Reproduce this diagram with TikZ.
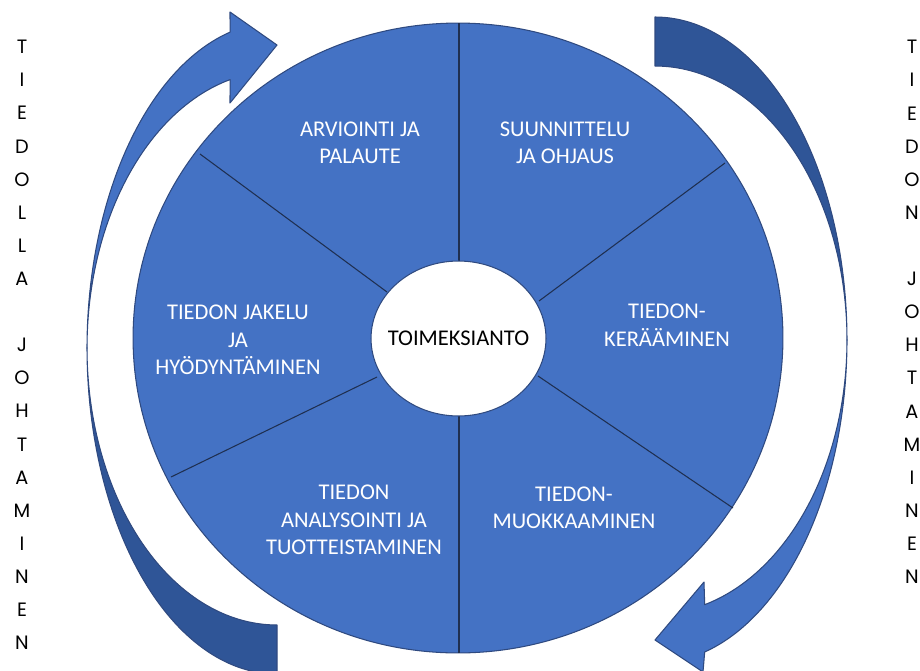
\documentclass[tikz,border=0pt]{standalone}
\usepackage{fontspec}
\setmainfont{Carlito}
\newfontfamily\sidefont{Poppins}
\definecolor{wheelblue}{HTML}{4472C4}
\definecolor{bandshade}{HTML}{2F5597}
\definecolor{rimline}{HTML}{2F4A80}
\definecolor{spokeline}{HTML}{1F2F50}
\begin{document}
\begin{tikzpicture}[x=0.02cm,y=-0.02cm,
  rim/.style={draw=rimline, line width=0.6pt, line join=round},
  frontband/.style={rim, fill=wheelblue},
  backband/.style={rim, fill=bandshade},
  spoke/.style={draw=spokeline, line width=0.6pt},
  hubtext/.style={inner sep=0pt, font=\fontsize{12.8}{15.6}\selectfont, text=black},
  phase/.style={text=white, align=center, font=\fontsize{12.8}{15.6}\selectfont, inner sep=0pt},
  sideword/.style={align=center, font=\sidefont\fontsize{11}{18.85}\selectfont, inner sep=0pt}]
\useasboundingbox (0,0) rectangle (920,670);
\clip (0,0) rectangle (920,670);

% right-hand circular arrow: dark rear face on top, light front face with head below
\path[backband] plot[domain=-90:0,samples=70] ({655+192*cos(\x)},{340+323*sin(\x)})
  -- plot[domain=0:-90,samples=70] ({655+192*cos(\x)},{340+274*sin(\x)}) -- cycle;
\path[frontband] plot[domain=0:75,samples=70] ({655+192*cos(\x)},{340+323*sin(\x)})
  -- (703,672) -- (655,640) -- (704,582)
  -- plot[domain=75:0,samples=70] ({655+192*cos(\x)},{340+274*sin(\x)}) -- cycle;

% left-hand circular arrow: light front face with head on top, dark rear face below
\path[frontband] plot[domain=180:255.7,samples=70] ({277+190*cos(\x)},{348+326*sin(\x)})
  -- (230,12) -- (277,45) -- (230,103)
  -- plot[domain=255.7:180,samples=70] ({277+190*cos(\x)},{348+277*sin(\x)}) -- cycle;
\path[backband] plot[domain=180:90,samples=70] ({277+190*cos(\x)},{348+326*sin(\x)})
  -- plot[domain=90:180,samples=70] ({277+190*cos(\x)},{348+277*sin(\x)}) -- cycle;

% the wheel
\path[rim, fill=wheelblue] (458,338) ellipse [x radius=6.5cm, y radius=6.3cm];

% spoke end points
\coordinate (topout) at (459,23);   \coordinate (topin) at (459,262);
\coordinate (botout) at (459,653);  \coordinate (botin) at (459,415);
\coordinate (ulout) at (200,154);   \coordinate (ulin) at (387,292);
\coordinate (urout) at (725,163);   \coordinate (urin) at (539,301);
\coordinate (llout) at (171,477);   \coordinate (llin) at (377,377);
\coordinate (lrout) at (733,508);   \coordinate (lrin) at (538,376);
\foreach \s in {top,bot,ul,ur,ll,lr}
  \draw[spoke] (\s out) -- (\s in);

% hub
\path[rim, fill=white] (458.5,338.5) ellipse [x radius=1.75cm, y radius=1.55cm];
\node[hubtext] (hub) at (458.5,338.5) {TOIMEKSIANTO};

% phase labels
\node[phase] (arv) at (360,143) {ARVIOINTI JA\\PALAUTE};
\node[phase] (suu) at (565,143) {SUUNNITTELU\\JA OHJAUS};
\node[phase] (ker) at (667,325) {TIEDON-\\KERÄÄMINEN};
\node[phase] (muo) at (574,508) {TIEDON-\\MUOKKAAMINEN};
\node[phase] (ana) at (354,520) {TIEDON\\ANALYSOINTI JA\\TUOTTEISTAMINEN};
\node[phase] (jak) at (238,340) {TIEDON JAKELU\\JA\\HYÖDYNTÄMINEN};

% vertical side captions
\node[sideword] (leftcap) at (22,345)
  {T\\I\\E\\D\\O\\L\\L\\A\\\mbox{}\\J\\O\\H\\T\\A\\M\\I\\N\\E\\N};
\node[sideword] (rightcap) at (912,312)
  {T\\I\\E\\D\\O\\N\\\mbox{}\\J\\O\\H\\T\\A\\M\\I\\N\\E\\N};
\end{tikzpicture}
\end{document}
